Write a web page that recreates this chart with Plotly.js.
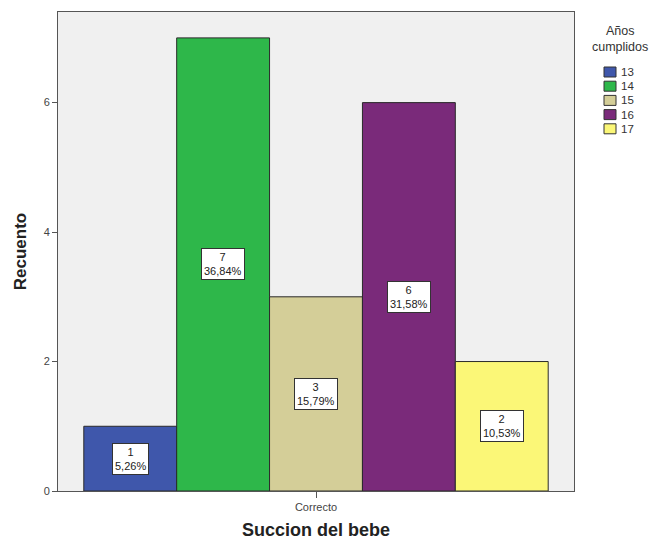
<!DOCTYPE html>
<html><head><meta charset="utf-8">
<script src="https://cdn.plot.ly/plotly-3.0.1.min.js"></script>
<style>body{margin:0;background:#fff}#c{width:659px;height:542px}</style>
</head><body><div id="c"></div>
<script>
const category = ["Correcto"];
const ages = ["13", "14", "15", "16", "17"];
const counts = [1, 7, 3, 6, 2];
const colors = ["#3F57AB", "#2EB74A", "#D4CE98", "#7A2A7A", "#FBF777"];
const yTicks = [0, 2, 4, 6];
const legendTitle = "Años<br>cumplidos";

const total = counts.reduce((a, b) => a + b, 0);
const bargap = 0.1;
const n = ages.length;
const slot = (1 - bargap) / n;

const traces = ages.map((a, i) => ({
  type: "bar",
  name: a,
  x: category,
  y: [counts[i]],
  marker: {color: colors[i], line: {color: "#2a2a2a", width: 1}},
  hoverinfo: "skip",
  showlegend: false
}));

const font = "Liberation Sans, Arial, sans-serif";

const annotations = ages.map((a, i) => ({
  x: -0.5 + bargap / 2 + slot * (i + 0.5),
  y: counts[i] / 2,
  xref: "x", yref: "y",
  text: counts[i] + "<br>" + (counts[i] / total * 100).toFixed(2).replace(".", ",") + "%",
  showarrow: false,
  bgcolor: "#ffffff",
  bordercolor: "#333333",
  borderwidth: 1,
  borderpad: 2,
  font: {family: font, size: 11, color: "#222"}
}));

// custom legend (pixel-based in paper coords)
const W = 659, H = 542, mL = 58, mR = 85, mT = 12, mB = 51;
const pw = W - mL - mR, ph = H - mT - mB;
const px = x => (x - mL) / pw;
const py = y => 1 - (y - mT) / ph;

annotations.push({
  xref: "paper", yref: "paper", x: px(620), y: py(39),
  text: legendTitle, showarrow: false, align: "center",
  xanchor: "center", yanchor: "middle",
  font: {family: font, size: 12.5, color: "#333"}
});

const shapes = [];
ages.forEach((a, i) => {
  const cy = 72 + i * 14.2;
  shapes.push({
    type: "rect", xref: "paper", yref: "paper",
    x0: px(604), x1: px(616), y0: py(cy - 5), y1: py(cy + 5),
    fillcolor: colors[i], line: {color: "#333", width: 1}
  });
  annotations.push({
    xref: "paper", yref: "paper", x: px(619), y: py(cy),
    text: a, showarrow: false, xanchor: "left", yanchor: "middle",
    font: {family: font, size: 11.5, color: "#333"}
  });
});

const layout = {
  width: W, height: H,
  margin: {l: mL, r: mR, t: mT, b: mB},
  paper_bgcolor: "#ffffff",
  plot_bgcolor: "#F0F0F0",
  barmode: "group",
  bargap: bargap,
  bargroupgap: 0,
  font: {family: font, color: "#333"},
  xaxis: {
    type: "category",
    range: [-0.5, 0.5],
    showline: true, linecolor: "#555", linewidth: 1, mirror: true,
    ticks: "outside", ticklen: 6, tickcolor: "#555",
    tickfont: {size: 11, color: "#444"},
    title: {text: "Succion del bebe", font: {size: 18, color: "#222", weight: "bold"}, standoff: 11},
    showgrid: false, zeroline: false
  },
  yaxis: {
    range: [0, 7.4],
    tickvals: yTicks,
    showline: true, linecolor: "#555", linewidth: 1, mirror: true,
    ticks: "outside", ticklen: 5, tickcolor: "#555",
    tickfont: {size: 11, color: "#444"},
    title: {text: "Recuento", font: {size: 17, color: "#222", weight: "bold"}, standoff: 12},
    showgrid: false, zeroline: false
  },
  annotations: annotations,
  shapes: shapes,
  showlegend: false
};

Plotly.newPlot("c", traces, layout, {displayModeBar: false, staticPlot: true});
</script></body></html>
